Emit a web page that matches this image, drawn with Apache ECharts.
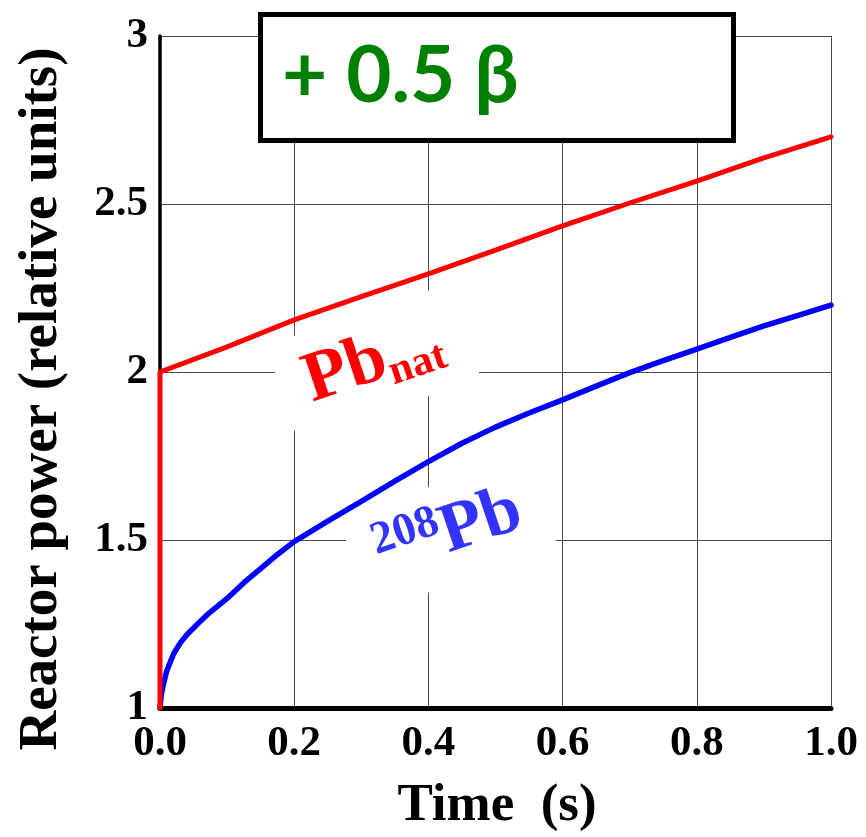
<!DOCTYPE html>
<html>
<head>
<meta charset="utf-8">
<script src="https://cdn.jsdelivr.net/npm/echarts@6/dist/echarts.min.js"></script>
<style>
  html, body { margin: 0; padding: 0; background: #fff; }
  #chart { width: 866px; height: 837px; }
</style>
</head>
<body>
<div id="chart"></div>
<script>
// Reactor power response after a +0.5 beta reactivity step
const xTicks = [0, 0.2, 0.4, 0.6, 0.8, 1.0];
const yTicks = [1, 1.5, 2, 2.5, 3];

// natural lead: prompt jump to 2, then slow rise
const timePbNat = [0, 0, 0.1, 0.2, 0.3, 0.4, 0.5, 0.6, 0.7, 0.8, 0.9, 1.0];
const powerPbNat = [1.0, 2.0, 2.075, 2.155, 2.224, 2.292, 2.363, 2.435, 2.503, 2.568, 2.637, 2.70];

// lead-208
const timePb208 = [0, 0.002, 0.005, 0.01, 0.02, 0.03, 0.04, 0.055, 0.07, 0.085, 0.1, 0.125, 0.15, 0.175,
  0.2, 0.25, 0.3, 0.35, 0.4, 0.45, 0.5, 0.55, 0.6, 0.65, 0.7, 0.75, 0.8, 0.85, 0.9, 0.95, 1.0];
const powerPb208 = [1.0, 1.04, 1.07, 1.11, 1.16, 1.193, 1.218, 1.248, 1.277, 1.302, 1.326, 1.373, 1.415, 1.457,
  1.495, 1.556, 1.615, 1.675, 1.733, 1.788, 1.836, 1.878, 1.917, 1.958, 1.998, 2.034, 2.068, 2.103, 2.137, 2.168, 2.199];

const SERIF = '"Liberation Serif", "Times New Roman", serif';

const chart = echarts.init(document.getElementById('chart'), null, { renderer: 'canvas' });

function pairs(xs, ys) { return xs.map((x, i) => [x, ys[i]]); }

const option = {
  animation: false,
  backgroundColor: '#fff',
  grid: { left: 160, right: 35, top: 36, bottom: 129, containLabel: false },
  xAxis: {
    type: 'value', min: xTicks[0], max: xTicks[xTicks.length - 1], interval: 0.2,
    axisLine: { show: true, onZero: false, lineStyle: { color: '#000', width: 5 } },
    axisTick: { show: false },
    splitLine: { show: true, lineStyle: { color: '#4a4a4a', width: 1 } },
    axisLabel: {
      margin: 14, color: '#000', fontFamily: SERIF, fontWeight: 'bold', fontSize: 43,
      formatter: v => v.toFixed(1), showMaxLabel: true, showMinLabel: true
    }
  },
  yAxis: {
    type: 'value', min: yTicks[0], max: yTicks[yTicks.length - 1], interval: 0.5,
    axisLine: { show: true, onZero: false, lineStyle: { color: '#000', width: 3.5 } },
    axisTick: { show: false },
    splitLine: { show: true, lineStyle: { color: '#4a4a4a', width: 1 } },
    axisLabel: {
      margin: 12, color: '#000', fontFamily: SERIF, fontWeight: 'bold', fontSize: 43,
      padding: [6, 0, 0, 0],
      formatter: v => String(v), showMaxLabel: true, showMinLabel: true
    }
  },
  series: [
    {
      name: '208Pb', type: 'line', data: pairs(timePb208, powerPb208),
      showSymbol: false, smooth: false,
      lineStyle: { color: '#0000ff', width: 5.5, cap: 'round', join: 'round' }, z: 3
    },
    {
      name: 'Pbnat', type: 'line', data: pairs(timePbNat, powerPbNat),
      showSymbol: false,
      lineStyle: { color: '#ff0000', width: 5, cap: 'round', join: 'round' }, z: 4
    }
  ]
};
chart.setOption(option);

// annotation positions, anchored in data space
const natPos = chart.convertToPixel({ gridIndex: 0 }, [0.318, 2.03]);
const p208Pos = chart.convertToPixel({ gridIndex: 0 }, [0.43, 1.52]);
const tilt = 18.6 * Math.PI / 180;

chart.setOption({
  graphic: [
    {
      type: 'rect', z: 10,
      shape: { x: 260.5, y: 14.5, width: 473, height: 126 },
      style: { fill: '#fff', stroke: '#000', lineWidth: 5 }
    },
    {
      type: 'text', z: 11, x: 282, y: 77,
      style: {
        text: '+ 0.5 β', fill: '#008000',
        font: 'bold 78px Lato, "Open Sans", sans-serif',
        align: 'left', verticalAlign: 'middle',
        shadowColor: 'rgba(0,0,0,0.35)', shadowBlur: 3, shadowOffsetX: 2, shadowOffsetY: 2
      }
    },
    {
      type: 'text', z: 2, x: natPos[0], y: natPos[1], rotation: tilt,
      style: {
        text: '{big|Pb}{sub|nat}',
        align: 'center', verticalAlign: 'middle',
        backgroundColor: '#fff', padding: [12, 26, 12, 26],
        rich: {
          big: { fill: '#ff0000', font: 'bold 71px ' + SERIF, lineHeight: 76, verticalAlign: 'middle' },
          sub: { fill: '#ff0000', font: 'bold 42px ' + SERIF, lineHeight: 28, verticalAlign: 'bottom' }
        }
      }
    },
    {
      type: 'text', z: 2, x: p208Pos[0], y: p208Pos[1], rotation: tilt,
      style: {
        text: '{sup|208}{big|Pb}',
        align: 'center', verticalAlign: 'middle',
        backgroundColor: '#fff', padding: [12, 24, 12, 24],
        rich: {
          big: { fill: '#3333ff', font: 'bold 70px ' + SERIF, lineHeight: 76, verticalAlign: 'middle' },
          sup: { fill: '#3333ff', font: 'bold 46px ' + SERIF, lineHeight: 50, verticalAlign: 'top' }
        }
      }
    },
    {
      type: 'text', z: 5, x: 42, y: 399, rotation: Math.PI / 2,
      style: {
        text: 'Reactor power (relative units)', fill: '#000',
        font: 'bold 55px ' + SERIF, align: 'center', verticalAlign: 'middle'
      }
    },
    {
      type: 'text', z: 5, x: 497, y: 806,
      style: {
        text: 'Time  (s)', fill: '#000',
        font: 'bold 53px ' + SERIF, align: 'center', verticalAlign: 'middle'
      }
    }
  ]
});
</script>
</body>
</html>
